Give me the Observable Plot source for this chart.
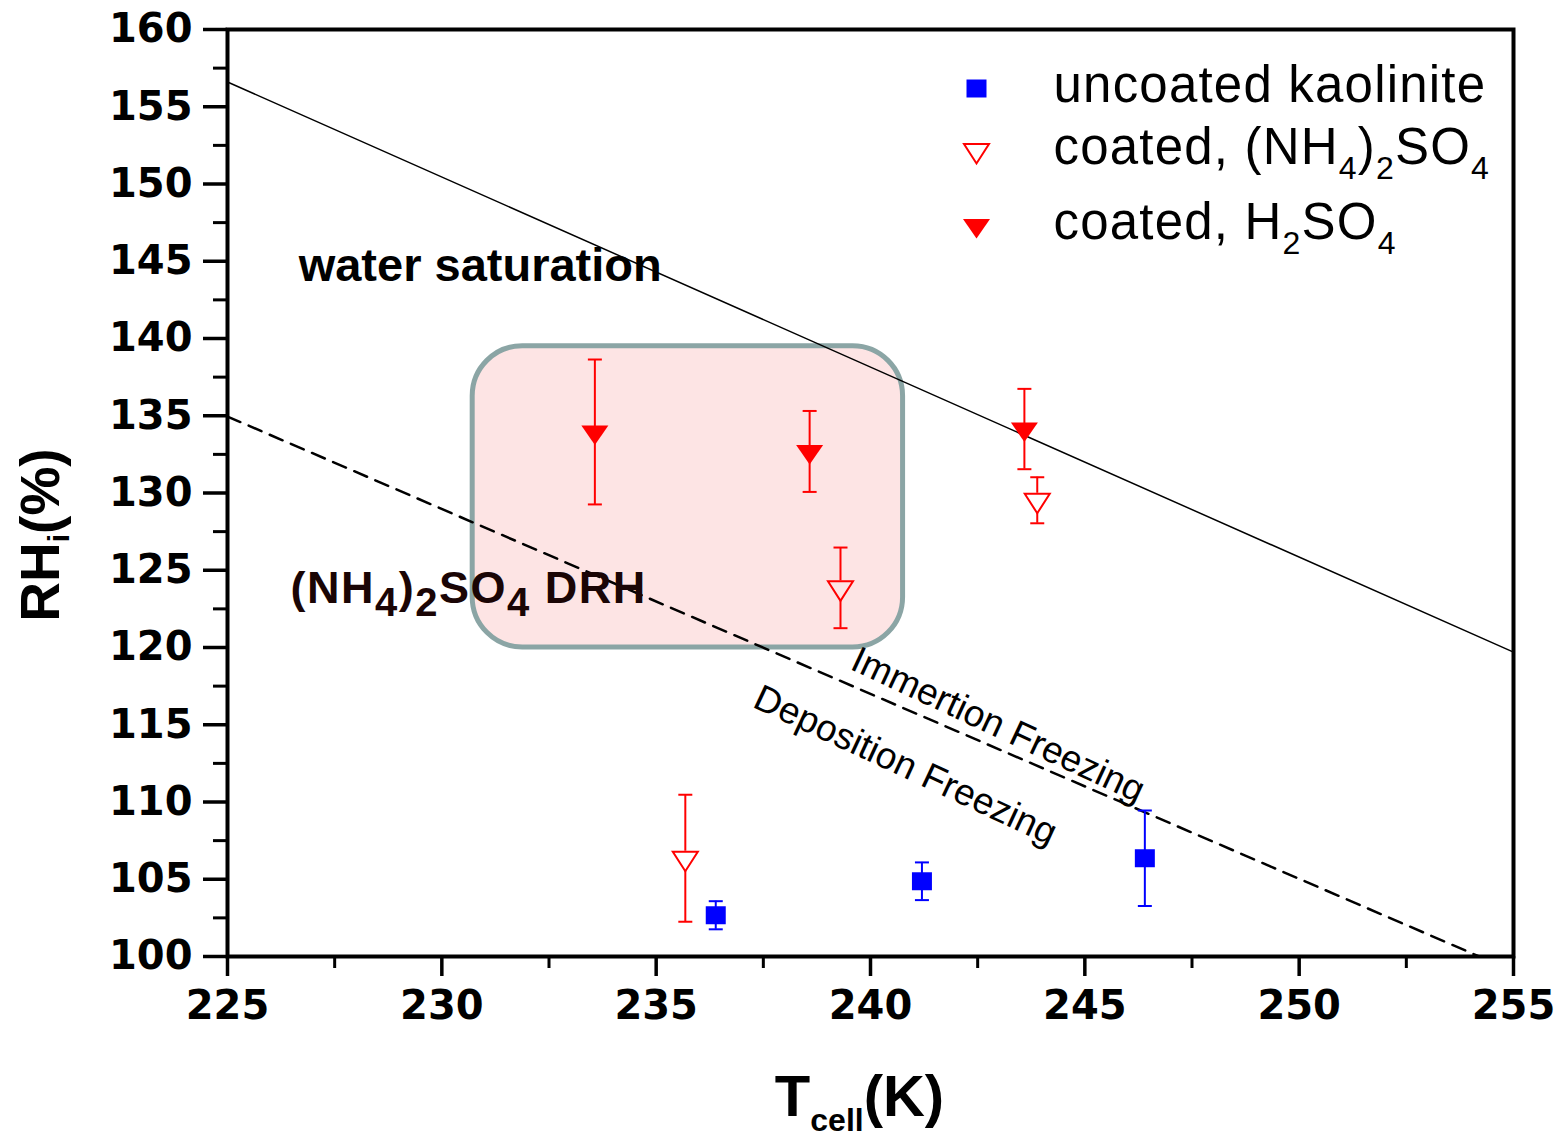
<!DOCTYPE html>
<html><head><meta charset="utf-8">
<script src="https://cdn.jsdelivr.net/npm/d3@7"></script>
<script src="https://cdn.jsdelivr.net/npm/@observablehq/plot@0.6"></script>
<style>
body{margin:0;background:#fff;}
#chart svg{display:block;}
svg [aria-label="y-axis tick label"] text, svg [aria-label="x-axis tick label"] text{font-family:'DejaVu Sans',sans-serif;}
</style></head><body><div id="chart"></div>
<script>
// ---- tick labels ----
const xTicks = [225, 230, 235, 240, 245, 250, 255];
const yTicks = [100, 105, 110, 115, 120, 125, 130, 135, 140, 145, 150, 155, 160];

// ---- series: uncoated kaolinite ----
const kaoT   = [236.39, 241.20, 246.40];
const kaoRH  = [102.67, 104.87, 106.36];
const kaoErr = [0.91, 1.22, 3.09];
// ---- series: coated, (NH4)2SO4 ----
const asT   = [235.68, 239.30, 243.89];
const asRH  = [106.36, 123.86, 129.53];
const asErr = [4.11, 2.61, 1.49];
// ---- series: coated, H2SO4 ----
const saT   = [233.57, 238.58, 243.59];
const saRH  = [133.95, 132.69, 134.14];
const saErr = [4.69, 2.62, 2.60];

// ---- reference lines ----
const waterT  = [225, 255];
const waterRH = [156.6, 119.7];
const drhT  = [225, 254.2];
const drhRH = [134.95, 100];

// ---- highlighted region ----
const boxT  = [230.72, 240.76];
const boxRH = [120.0, 139.5];

// ---- legend ----
const legendLabels = ["uncoated kaolinite", "coated, (NH{4}){2}SO{4}", "coated, H{2}SO{4}"];

// ---- annotations ----
const annoLabels = ["water saturation", "(NH{4}){2}SO{4} DRH", "Immertion Freezing", "Deposition Freezing"];
const annoT  = [226.66, 226.47, 239.49, 237.22];
const annoRH = [143.75, 122.85, 118.64, 116.18];

const xLabel = "T{cell}(K)";
const yLabel = "RH{i}(%)";

const series = (T, RH, E) => T.map((t, i) => ({T: t, RH: RH[i], lo: RH[i] - E[i], hi: RH[i] + E[i]}));
const kao = series(kaoT, kaoRH, kaoErr);
const as = series(asT, asRH, asErr);
const sa = series(saT, saRH, saErr);
const water = waterT.map((t, i) => ({T: t, RH: waterRH[i]}));
const drh = drhT.map((t, i) => ({T: t, RH: drhRH[i]}));
const anno = annoLabels.map((s, i) => ({s, T: annoT[i], RH: annoRH[i]}));
const yMinor = yTicks.slice(0, -1).map(v => v + 2.5);
const xMinor = xTicks.slice(0, -1).map(v => v + 2.5);

// symbols
const squareSym = {draw(c) { c.rect(-10, -9, 20, 18); }};
const triDown = {draw(c) { c.moveTo(-13.5, -6.5); c.lineTo(13.5, -6.5); c.lineTo(0, 13); c.closePath(); }};
const triOpen = {draw(c) { c.moveTo(-12.5, -6.5); c.lineTo(12.5, -6.5); c.lineTo(0, 13); c.closePath(); }};
const capSym = {draw(c) { c.moveTo(-7, 0); c.lineTo(7, 0); }};

const RED = "#ff0000", BLUE = "#0000ff";

function errMarks(data, color) {
  return [
    Plot.ruleX(data, {x: "T", y1: "lo", y2: "hi", stroke: color, strokeWidth: 2}),
    Plot.dot(data, {x: "T", y: "lo", symbol: capSym, stroke: color, strokeWidth: 2, fill: "none"}),
    Plot.dot(data, {x: "T", y: "hi", symbol: capSym, stroke: color, strokeWidth: 2, fill: "none"})
  ];
}

const legendDy = [59, 121, 196];

const svg = Plot.plot({
  width: 1565, height: 1138,
  marginLeft: 227, marginRight: 52, marginTop: 29, marginBottom: 182,
  x: {domain: [225, 255]},
  y: {domain: [100, 160]},
  style: {fontFamily: "'Liberation Sans', Arial, sans-serif", background: "white", color: "black"},
  marks: [
    Plot.rect([0], {x1: () => boxT[0], x2: () => boxT[1], y1: () => boxRH[0], y2: () => boxRH[1], rx: 50, fill: "#fde4e4", stroke: "#8ba5a5", strokeWidth: 5}),
    Plot.line(water, {x: "T", y: "RH", stroke: "black", strokeWidth: 1.5}),
    Plot.line(drh, {x: "T", y: "RH", stroke: "black", strokeWidth: 2.5, strokeDasharray: "14,9"}),
    Plot.text([anno[0]], {x: "T", y: "RH", text: "s", textAnchor: "start", lineAnchor: "bottom", fontSize: 47, fontWeight: "bold"}),
    Plot.text([anno[1]], {x: "T", y: "RH", text: "s", textAnchor: "start", lineAnchor: "bottom", fontSize: 45, fontWeight: "bold", fill: "#1a0505"}),
    Plot.text(anno.slice(2), {x: "T", y: "RH", text: "s", textAnchor: "start", lineAnchor: "bottom", fontSize: 37, rotate: 25}),
    // error bars
    ...errMarks(kao, BLUE),
    ...errMarks(sa, RED),
    Plot.ruleX(as, {x: "T", y1: "hi", y2: "RH", stroke: RED, strokeWidth: 2, insetBottom: 7}),
    Plot.ruleX(as, {x: "T", y1: "RH", y2: "lo", stroke: RED, strokeWidth: 2, insetTop: 13}),
    Plot.dot(as, {x: "T", y: "lo", symbol: capSym, stroke: RED, strokeWidth: 2, fill: "none"}),
    Plot.dot(as, {x: "T", y: "hi", symbol: capSym, stroke: RED, strokeWidth: 2, fill: "none"}),
    // symbols
    Plot.dot(kao, {x: "T", y: "RH", symbol: squareSym, fill: BLUE, stroke: "none"}),
    Plot.dot(sa, {x: "T", y: "RH", symbol: triDown, fill: RED, stroke: "none"}),
    Plot.dot(as, {x: "T", y: "RH", symbol: triOpen, fill: "none", stroke: RED, strokeWidth: 2}),
    // legend
    Plot.dot([0], {frameAnchor: "top-left", dx: 749, dy: legendDy[0], symbol: squareSym, fill: BLUE, stroke: "none"}),
    Plot.dot([0], {frameAnchor: "top-left", dx: 749, dy: legendDy[1], symbol: triOpen, fill: "none", stroke: RED, strokeWidth: 2}),
    Plot.dot([0], {frameAnchor: "top-left", dx: 749, dy: legendDy[2], symbol: triDown, fill: RED, stroke: "none"}),
    ...legendLabels.map((s, i) => Plot.text([s], {frameAnchor: "top-left", text: d => d, dx: 826, dy: legendDy[i] + 13.5, textAnchor: "start", lineAnchor: "bottom", fontSize: 51})),
    // axes
    Plot.axisY(yMinor, {tickSize: 14, tickFormat: () => "", strokeWidth: 3, label: null}),
    Plot.axisY(yTicks, {tickSize: 24, tickPadding: 11, fontSize: 40, fontWeight: "bold", strokeWidth: 3.5, label: null}),
    Plot.axisX(xMinor, {tickSize: 12, tickFormat: () => "", strokeWidth: 3, label: null}),
    Plot.axisX(xTicks, {tickSize: 20, tickPadding: 14, fontSize: 40, fontWeight: "bold", strokeWidth: 3.5, label: null}),
    Plot.frame({stroke: "black", strokeWidth: 4}),
    // axis titles
    Plot.text([yLabel], {frameAnchor: "left", text: d => d, dx: -169, dy: 42, rotate: -90, fontSize: 55, fontWeight: "bold", lineAnchor: "bottom", textAnchor: "middle"}),
    Plot.text([xLabel], {frameAnchor: "bottom", text: d => d, dx: -11, dy: 159, fontSize: 58, fontWeight: "bold", lineAnchor: "bottom", textAnchor: "middle"})
  ]
});

// subscripts
const subs = new Map([
  [legendLabels[1], {size: 32, dy: 15, ls: 1.2}],
  [legendLabels[2], {size: 32, dy: 15, ls: 1.2}],
  [legendLabels[0], {ls: 1.2}],
  [annoLabels[1], {size: 40, dy: 13, ls: 1.5}],
  [yLabel, {size: 30, dy: 10}],
  [xLabel, {size: 32, dy: 15}]
]);
d3.select(svg).selectAll("text").each(function() {
  const s = this.textContent;
  const conf = subs.get(s);
  if (!conf) return;
  const sel = d3.select(this);
  if (conf.ls) sel.attr("letter-spacing", conf.ls);
  if (!s.includes("{")) return;
  sel.text(null);
  let shift = 0;
  s.split(/(\{[^}]*\})/).filter(p => p).forEach(p => {
    const isSub = p.startsWith("{");
    const target = isSub ? conf.dy : 0;
    const t = sel.append("tspan").attr("dy", target - shift).text(isSub ? p.slice(1, -1) : p);
    if (isSub) t.attr("font-size", conf.size);
    shift = target;
  });
});
document.getElementById("chart").appendChild(svg);
</script></body></html>
